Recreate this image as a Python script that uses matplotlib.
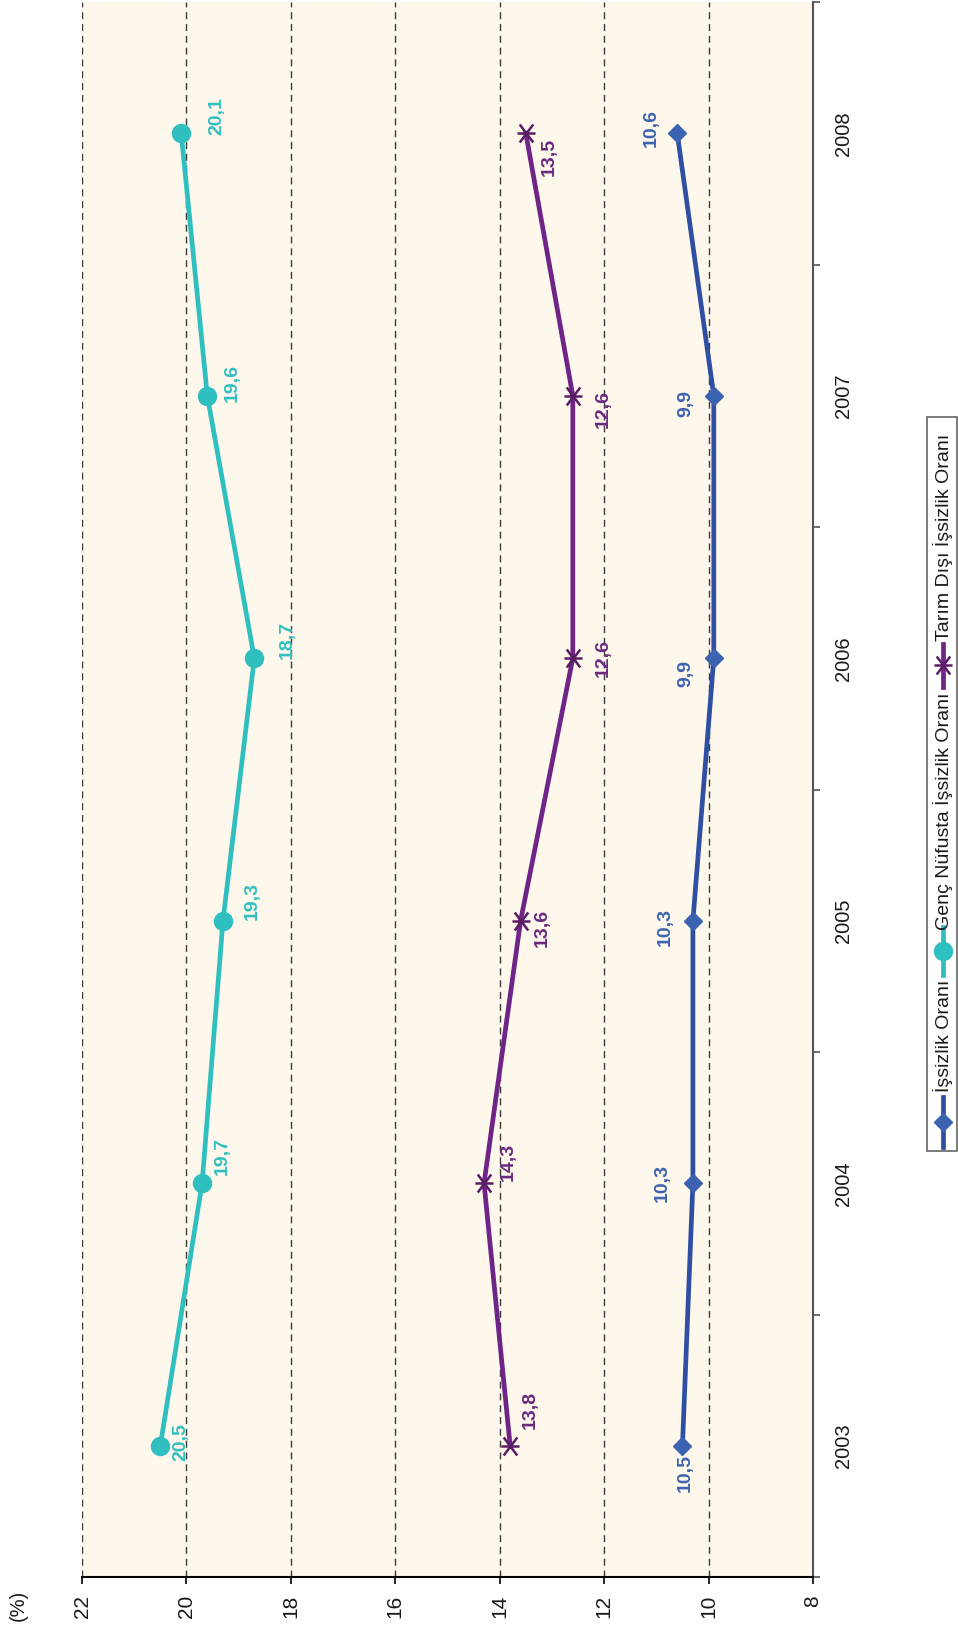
import matplotlib
matplotlib.use("Agg")
import matplotlib.pyplot as plt
from matplotlib.path import Path
from matplotlib.lines import Line2D
from matplotlib.patches import Rectangle
from matplotlib.ticker import FixedLocator

plt.rcParams['font.family'] = ['Liberation Sans', 'DejaVu Sans']

# ---- data ----
years = [2003, 2004, 2005, 2006, 2007, 2008]
issizlik = [10.5, 10.3, 10.3, 9.9, 9.9, 10.6]
genc = [20.5, 19.7, 19.3, 18.7, 19.6, 20.1]
tarim_disi = [13.8, 14.3, 13.6, 12.6, 12.6, 13.5]
series_names = ["İşsizlik Oranı", "Genç Nüfusta İşsizlik Oranı", "Tarım Dışı İşsizlik Oranı"]
value_ticks = [8, 10, 12, 14, 16, 18, 20, 22]

# label offsets in pixels (right, down) on the rotated page
off_issizlik = [(3, 27), (-31, 0), (-28, 6), (-28, 15), (-28, 8), (-26, -5)]
off_genc = [(21, -4), (20, -27), (29, -20), (33, -18), (25, -13), (36, -17)]
off_tarim = [(20, -36), (24, -21), (22, 7), (30, 0), (30, 13), (23, 24)]

TEAL = '#30BFBF'
BLUE_LINE = '#2F4FA3'
BLUE_MK = '#3C62B2'
BLUE_TXT = '#3F63B0'
PURP_LINE = '#6E2587'
PURP_MK = '#5B1C66'
PURP_TXT = '#6A2A7E'

# six-armed star (horizontal bar + X) for the page turned on its side
star = Path([(-1, 0), (1, 0), (-0.75, -1), (0.75, 1), (-0.75, 1), (0.75, -1)],
            [Path.MOVETO, Path.LINETO, Path.MOVETO, Path.LINETO, Path.MOVETO, Path.LINETO])

W, H = 958, 1629
fig = plt.figure(figsize=(W / 100, H / 100), dpi=100)
ax = fig.add_axes([82 / W, 52 / H, (813 - 82) / W, (1577 - 2) / H])
ax.set_facecolor('#FDF7EC')

ax.set_xlim(22, 8)
ax.set_ylim(2002.5, 2008.5)

# grid
for v in value_ticks:
    ax.axvline(v, color='#3a3a3a', lw=1.0, dashes=(5, 3.5), zorder=1)

# series
ax.plot(genc, years, color=TEAL, lw=3.4, marker='o', ms=13, mfc=TEAL, mec=TEAL, zorder=3)
ax.plot(tarim_disi, years, color=PURP_LINE, lw=3.4, zorder=3)
ax.plot(tarim_disi, years, ls='none', marker=star, ms=13, mec=PURP_MK, mew=1.8, zorder=4)
ax.plot(issizlik, years, color=BLUE_LINE, lw=3.4, zorder=3)
ax.plot(issizlik, years, ls='none', marker='D', ms=9.5, mfc=BLUE_MK, mec=BLUE_MK, zorder=4)

def fmt(v):
    return f"{v:.1f}".replace('.', ',')

for vals, offs, col in [(genc, off_genc, TEAL), (tarim_disi, off_tarim, PURP_TXT),
                        (issizlik, off_issizlik, BLUE_TXT)]:
    for v, yr, (dx, dy) in zip(vals, years, offs):
        ax.annotate(fmt(v), xy=(v, yr), xytext=(dx, -dy), textcoords='offset pixels',
                    ha='center', va='center', rotation=90, fontsize=14,
                    fontweight='bold', color=col, zorder=5)

# axes styling
for s in ['left', 'top']:
    ax.spines[s].set_visible(False)
ax.spines['bottom'].set_color('black')
ax.spines['bottom'].set_linewidth(1.5)
ax.spines['right'].set_color('#555555')
ax.spines['right'].set_linewidth(1.5)

ax.xaxis.set_major_locator(FixedLocator(value_ticks))
ax.set_xticklabels([str(v) for v in value_ticks], rotation=90, fontsize=15, color='#1a1a1a')
ax.tick_params(axis='x', direction='out', length=5, width=1.2, color='black', pad=8)

ax.yaxis.tick_right()
ax.yaxis.set_major_locator(FixedLocator(years))
ax.yaxis.set_minor_locator(FixedLocator([y - 0.5 for y in years] + [years[-1] + 0.5]))
ax.set_yticklabels([str(y) for y in years], rotation=90, fontsize=14.5, color='#1a1a1a', va='center')
ax.tick_params(axis='y', which='major', length=0, pad=15)
ax.tick_params(axis='y', which='minor', direction='out', length=5, width=1.2, color='#555555')

# unit label
fig.text(18 / W, 1 - 1605 / H, "(%)", rotation=90, ha='center', va='center',
         fontsize=14.5, color='#1a1a1a')

# legend drawn on its side
def fy(y):
    return 1 - y / H

fig.patches.append(Rectangle((927 / W, fy(1151)), 30 / W, (1151 - 417) / H,
                             transform=fig.transFigure, fill=False, ec='#666666', lw=1.2))
xc = 943 / W
leg = [
    (1147, 1097, 1122, 1092, BLUE_LINE, 'D', BLUE_MK, 9.5),
    (975, 927, 951, 930, TEAL, 'o', TEAL, 13),
    (687, 644, 665, 641, PURP_LINE, star, PURP_MK, 13),
]
for (y0, y1, ym, yt, lc, mk, mc, ms), name in zip(leg, series_names):
    fig.lines.append(Line2D([xc, xc], [fy(y0), fy(y1)], transform=fig.transFigure,
                            color=lc, lw=3.4))
    if mk is star:
        fig.lines.append(Line2D([xc], [fy(ym)], transform=fig.transFigure, ls='none',
                                marker=mk, ms=ms, mec=mc, mew=1.8))
    else:
        fig.lines.append(Line2D([xc], [fy(ym)], transform=fig.transFigure, ls='none',
                                marker=mk, ms=ms, mfc=mc, mec=mc))
    fig.text(xc, fy(yt), name, rotation=90, ha='center', va='bottom', fontsize=14,
             color='#1a1a1a')

fig.savefig('out.png', dpi=100, facecolor='white')
